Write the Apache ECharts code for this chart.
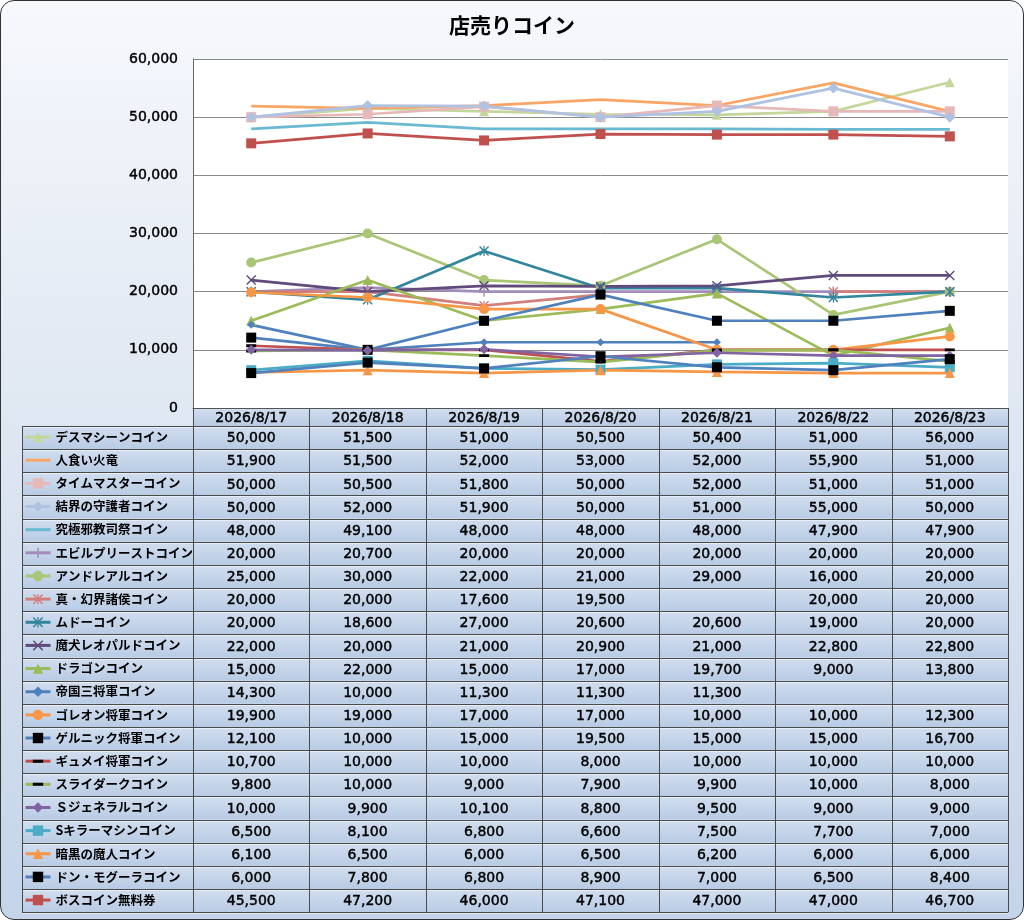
<html>
<head>
    <meta charset="utf-8">
    <script src="https://cdn.jsdelivr.net/npm/echarts@6/dist/echarts.min.js"></script>
    <style>
        body { margin: 0; background: #fff; }
        #panel {
            position: absolute; left: 0; top: 0; width: 1022px; height: 918px;
            border: 1px solid #333; border-radius: 14px;
            background: linear-gradient(#f6f8fc, #dfe7f2 45%, #c4d4e9);
        }
        #main { position: absolute; left: 0; top: 0; width: 1024px; height: 920px; }
    </style>
</head>
<body>
    <div id="panel"></div>
    <div id="main"></div>
    <script>
        // dates (columns of the data table)
        var dates = ['2026/8/17', '2026/8/18', '2026/8/19', '2026/8/20', '2026/8/21', '2026/8/22', '2026/8/23'];

        var coinNames = [
            'デスマシーンコイン', '人食い火竜', 'タイムマスターコイン', '結界の守護者コイン',
            '究極邪教司祭コイン', 'エビルプリーストコイン', 'アンドレアルコイン', '真・幻界諸侯コイン',
            'ムドーコイン', '魔犬レオパルドコイン', 'ドラゴンコイン', '帝国三将軍コイン',
            'ゴレオン将軍コイン', 'ゲルニック将軍コイン', 'ギュメイ将軍コイン', 'スライダークコイン',
            'Ｓジェネラルコイン', 'Sキラーマシンコイン', '暗黒の魔人コイン', 'ドン・モグーラコイン',
            'ボスコイン無料券'
        ];

        // one row per coin, same order as coinNames
        var coinValues = [
            [50000, 51500, 51000, 50500, 50400, 51000, 56000],
            [51900, 51500, 52000, 53000, 52000, 55900, 51000],
            [50000, 50500, 51800, 50000, 52000, 51000, 51000],
            [50000, 52000, 51900, 50000, 51000, 55000, 50000],
            [48000, 49100, 48000, 48000, 48000, 47900, 47900],
            [20000, 20700, 20000, 20000, 20000, 20000, 20000],
            [25000, 30000, 22000, 21000, 29000, 16000, 20000],
            [20000, 20000, 17600, 19500, null, 20000, 20000],
            [20000, 18600, 27000, 20600, 20600, 19000, 20000],
            [22000, 20000, 21000, 20900, 21000, 22800, 22800],
            [15000, 22000, 15000, 17000, 19700, 9000, 13800],
            [14300, 10000, 11300, 11300, 11300, null, null],
            [19900, 19000, 17000, 17000, 10000, 10000, 12300],
            [12100, 10000, 15000, 19500, 15000, 15000, 16700],
            [10700, 10000, 10000, 8000, 10000, 10000, 10000],
            [9800, 10000, 9000, 7900, 9900, 10000, 8000],
            [10000, 9900, 10100, 8800, 9500, 9000, 9000],
            [6500, 8100, 6800, 6600, 7500, 7700, 7000],
            [6100, 6500, 6000, 6500, 6200, 6000, 6000],
            [6000, 7800, 6800, 8900, 7000, 6500, 8400],
            [45500, 47200, 46000, 47100, 47000, 47000, 46700]
        ];

        var yTicks = { min: 0, max: 60000, interval: 10000 };

        // marker shapes
        var PLUS = 'path://M4.3,0H5.7V4.3H10V5.7H5.7V10H4.3V5.7H0V4.3H4.3Z';
        var CROSS = 'path://M0,1L1,0L5,4L9,0L10,1L6,5L10,9L9,10L5,6L1,10L0,9L4,5Z';
        var STAR = 'path://M0,1L1,0L5,4L9,0L10,1L6,5L10,9L9,10L5,6L1,10L0,9L4,5ZM4.4,0H5.6V10H4.4Z';
        // short bar; the zero-area stroke keeps the box square
        var DASH = 'path://M0,3.6H10V6.4H0ZM5,0L5,10L5,0Z';

        var lineColors = ['#c4d79b', '#f9a566', '#e6b9b8', '#afc2e2', '#6ab9d2', '#a28cbb', '#a9c676',
            '#d27f7c', '#31859c', '#604a7b', '#9bbb59', '#4f81bd', '#f79646', '#4f81bd', '#c0504d',
            '#9bbb59', '#8064a2', '#4bacc6', '#f79646', '#4f81bd', '#c0504d'];
        var markerColors = ['#c4d79b', '#f9a566', '#e6b9b8', '#afc2e2', '#6ab9d2', '#a28cbb', '#a9c676',
            '#d27f7c', '#31859c', '#604a7b', '#9bbb59', '#4f81bd', '#f79646', '#000', '#000',
            '#000', '#8064a2', '#4bacc6', '#f79646', '#000', '#c0504d'];
        var markerSymbols = ['triangle', 'none', 'rect', 'diamond', 'none', PLUS, 'circle', STAR,
            STAR, CROSS, 'triangle', 'diamond', 'circle', 'rect', DASH, DASH, 'diamond', 'rect',
            'triangle', 'rect', 'rect'];
        var markerSizes = [10, 0, 10, 11, 0, 10, 10, 10, 10, 10, 10, 8, 10, 10, 10, 10, 10, 10, 10, 10, 10];

        var chart = echarts.init(document.getElementById('main'));

        var plotLeft = 193, plotRight = 1008, plotTop = 59, plotBottom = 408;
        var rowTop = 426, rowH = 23.15, labelLeft = 22;
        var colW = (plotRight - plotLeft) / dates.length;
        var tableBottom = rowTop + rowH * coinNames.length;
        var numFont = 'DejaVu Sans';
        var jpFont = 'Noto Sans CJK JP';

        var rowFill = new echarts.graphic.LinearGradient(0, 0, 0, 1, [
            { offset: 0, color: '#d2deef' }, { offset: 1, color: '#b8cbe4' }
        ]);

        var graphics = [];
        // header band
        graphics.push({
            type: 'rect', z: 0,
            shape: { x: plotLeft, y: plotBottom, width: plotRight - plotLeft, height: rowTop - plotBottom },
            style: { fill: rowFill }
        });
        // body rows
        for (var i = 0; i < coinNames.length; i++) {
            graphics.push({
                type: 'rect', z: 0,
                shape: { x: labelLeft, y: rowTop + rowH * i, width: plotRight - labelLeft, height: rowH },
                style: { fill: rowFill }
            });
        }
        // horizontal rules
        for (var i = 0; i <= coinNames.length; i++) {
            var y = Math.round(rowTop + rowH * i) + 0.5;
            graphics.push({
                type: 'line', z: 1,
                shape: { x1: labelLeft, y1: y, x2: plotRight, y2: y },
                style: { stroke: '#4a4a4a', lineWidth: 1 }
            });
            graphics.push({
                type: 'line', z: 1,
                shape: { x1: labelLeft, y1: y + 1, x2: plotRight, y2: y + 1 },
                style: { stroke: 'rgba(255,255,255,0.5)', lineWidth: 1 }
            });
        }
        // vertical rules
        graphics.push({
            type: 'line', z: 1,
            shape: { x1: labelLeft + 0.5, y1: rowTop, x2: labelLeft + 0.5, y2: tableBottom },
            style: { stroke: '#4a4a4a', lineWidth: 1 }
        });
        for (var j = 0; j <= dates.length; j++) {
            var x = Math.round(plotLeft + colW * j) + 0.5;
            graphics.push({
                type: 'line', z: 1,
                shape: { x1: x, y1: plotBottom, x2: x, y2: tableBottom },
                style: { stroke: '#4a4a4a', lineWidth: 1 }
            });
        }
        // cell values
        coinValues.forEach(function (row, i) {
            row.forEach(function (v, j) {
                if (v == null) return;
                graphics.push({
                    type: 'text', z: 2,
                    x: plotLeft + colW * (j + 0.5),
                    y: rowTop + rowH * (i + 0.5) + 1,
                    style: {
                        text: v.toLocaleString('en-US'),
                        fill: '#000',
                        stroke: '#000',
                        lineWidth: 0.45,
                        font: '14px "' + numFont + '"',
                        align: 'center',
                        verticalAlign: 'middle'
                    }
                });
            });
        });

        var series = coinNames.map(function (name, i) {
            var noMarker = markerSymbols[i] === 'none';
            return {
                name: name,
                type: 'line',
                data: coinValues[i],
                symbol: noMarker ? 'circle' : markerSymbols[i],
                symbolSize: markerSizes[i],
                showSymbol: !noMarker,
                connectNulls: false,
                lineStyle: { color: lineColors[i], width: 2.7 },
                itemStyle: { color: markerColors[i], opacity: noMarker ? 0 : 1 },
                emphasis: { disabled: true },
                animation: false
            };
        });

        var option = {
            animation: false,
            title: {
                text: '店売りコイン',
                left: 'center',
                top: 10,
                textStyle: { fontSize: 21, fontWeight: 'bold', color: '#000', fontFamily: jpFont }
            },
            grid: {
                left: plotLeft, right: 1024 - plotRight, top: plotTop, bottom: 920 - plotBottom,
                show: true, backgroundColor: '#fff', borderWidth: 0
            },
            legend: {
                orient: 'vertical',
                left: labelLeft + 2,
                top: rowTop + rowH / 2 - 7,
                itemWidth: 25,
                itemHeight: 13,
                itemGap: rowH - 13,
                padding: 0,
                selectedMode: false,
                lineStyle: { width: 3 },
                textStyle: {
                    fontSize: 12.5, color: '#000', fontFamily: jpFont, fontWeight: 'bold', lineHeight: 13
                },
                data: coinNames
            },
            xAxis: {
                type: 'category',
                data: dates,
                boundaryGap: true,
                z: 10,
                axisLine: { lineStyle: { color: '#555' } },
                axisTick: { show: false },
                axisLabel: {
                    interval: 0, margin: 3, fontSize: 14, color: '#000', fontFamily: numFont,
                    textBorderColor: '#000', textBorderWidth: 0.45
                }
            },
            yAxis: {
                type: 'value',
                min: yTicks.min,
                max: yTicks.max,
                interval: yTicks.interval,
                axisLine: { show: true, lineStyle: { color: '#666' } },
                axisTick: { show: false },
                splitLine: { lineStyle: { color: '#8a8a8a' } },
                axisLabel: {
                    margin: 15, fontSize: 14, color: '#000', fontFamily: numFont,
                    textBorderColor: '#000', textBorderWidth: 0.45,
                    formatter: function (v) { return v.toLocaleString('en-US'); }
                }
            },
            graphic: graphics,
            series: series
        };

        chart.setOption(option);

        window.onresize = function () {
            chart.resize();
        }
    </script>
</body>
</html>
